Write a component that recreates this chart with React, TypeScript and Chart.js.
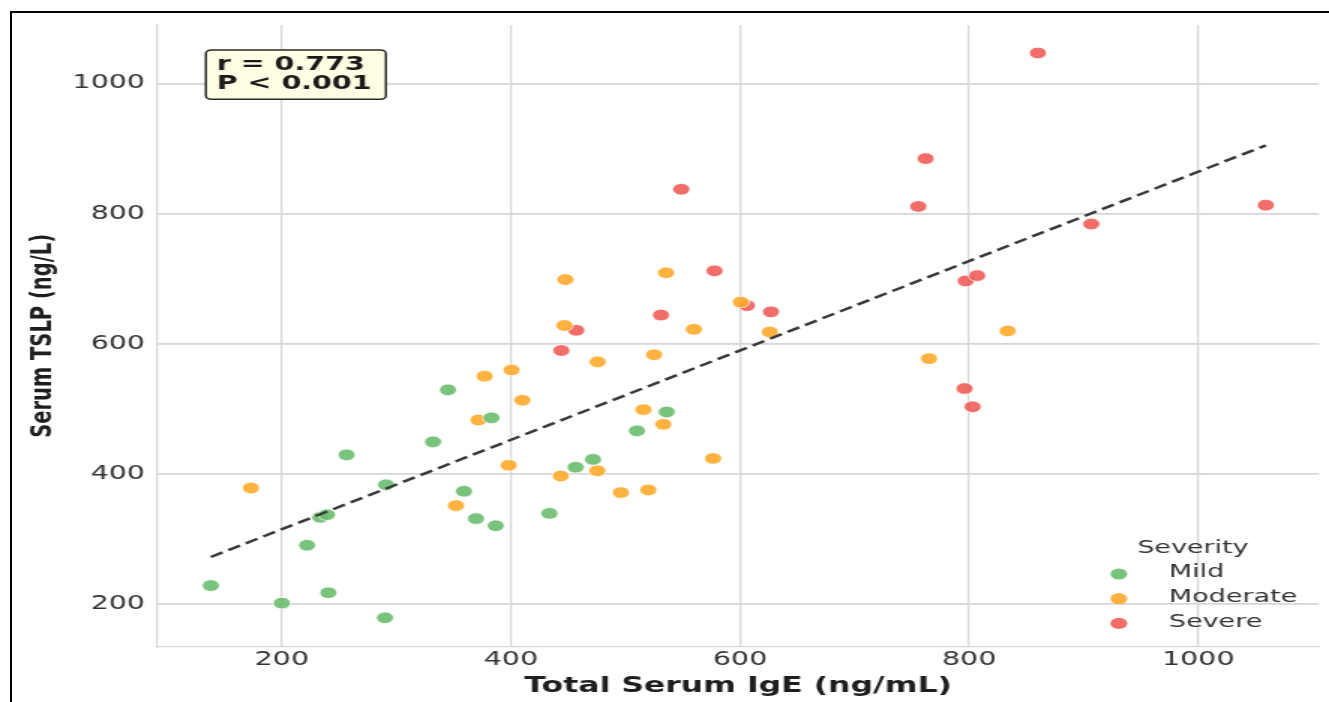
import React, { useEffect, useRef } from "react";
import { Chart, registerables } from "chart.js";

Chart.register(...registerables);

// ---- Data ----
const severityNames = ["Mild", "Moderate", "Severe"];

const mildIgE = [138, 200, 222, 233.6, 239.4, 240.6, 256.5, 290, 291, 332, 345, 359, 369.5, 383, 386.7, 433.6, 456.5, 471.6, 510, 536];
const mildTSLP = [228, 201, 290, 333, 337, 217, 429, 178.5, 383, 449, 529, 373, 331, 486, 320, 339, 410, 422, 466, 495];

const moderateIgE = [173, 352, 371.6, 377, 398, 400.5, 410, 443.5, 446.7, 447.5, 475.4, 475.7, 496, 515.7, 520, 525, 533, 535.4, 559.7, 576.5, 600.6, 626, 765, 833.6];
const moderateTSLP = [378, 351, 482.6, 550, 413, 559.5, 513, 396.5, 628, 698.5, 404.6, 572, 371, 498.5, 375, 583, 476, 709, 622, 423.5, 664, 618, 577, 619.5];

const severeIgE = [444, 457, 531, 548.7, 577.7, 606, 627, 755.6, 762, 796, 797, 803, 807, 860, 906.6, 1059];
const severeTSLP = [589.5, 620.5, 644, 837.4, 712, 658.5, 649, 811, 884.6, 531, 696.4, 503, 704.6, 1047, 784, 813];

const fitIgE = [138, 1059];
const fitTSLP = [272, 905];

const xTickValues = [200, 400, 600, 800, 1000];
const yTickValues = [200, 400, 600, 800, 1000];

const statsLines = ["r = 0.773", "P < 0.001"];
const legendTitle = "Severity";
const xTitle = "Total Serum IgE (ng/mL)";
const yTitle = "Serum TSLP (ng/L)";

// ---- Styles ----
const STRETCH = 1.5;
const FULL_W = 1329;
const FULL_H = 702;
const INNER_W = FULL_W / STRETCH;
const FONT = "'DejaVu Sans', sans-serif";
const TEXT = "#333333";
const GRID = "#d6d6d6";
const severityColors = ["rgba(102,187,106,0.88)", "rgba(255,167,38,0.88)", "rgba(239,83,80,0.85)"];

function pts(xs: number[], ys: number[]) {
  return xs.map((x, i) => ({ x, y: ys[i] }));
}

const overlayPlugin = {
  id: "overlay",
  afterDraw(chart: any) {
    const { ctx, chartArea } = chart;
    ctx.save();
    // stats box
    const bx = chartArea.left + 32.6;
    const by = chartArea.top + 25;
    const bw = 120;
    const bh = 49.3;
    ctx.beginPath();
    (ctx as any).roundRect(bx, by, bw, bh, 3.5);
    ctx.fillStyle = "rgba(255,253,225,0.95)";
    ctx.fill();
    ctx.lineWidth = 1.5;
    ctx.strokeStyle = "#2a2a2a";
    ctx.stroke();
    ctx.fillStyle = "#1a1a1a";
    ctx.font = `bold 19px ${FONT}`;
    ctx.textAlign = "left";
    ctx.textBaseline = "alphabetic";
    ctx.fillText(statsLines[0], bx + 7.3, by + 20);
    ctx.fillText(statsLines[1], bx + 7.3, by + 39.3);

    // legend
    const right = chartArea.right;
    const bottom = chartArea.bottom;
    ctx.font = `18px ${FONT}`;
    ctx.fillStyle = TEXT;
    ctx.textAlign = "center";
    ctx.textBaseline = "middle";
    ctx.fillText(legendTitle, right - 84.1, bottom - 98.4);
    const scatterSets = chart.data.datasets.filter((d: any) => d.isSeverity);
    scatterSets.forEach((d: any, i: number) => {
      const cy = bottom - 72.7 + i * 24.7;
      const cx = right - 133.5;
      ctx.beginPath();
      ctx.arc(cx, cy, 5.6, 0, Math.PI * 2);
      ctx.fillStyle = d.backgroundColor;
      ctx.fill();
      ctx.fillStyle = TEXT;
      ctx.textAlign = "left";
      ctx.fillText(d.label, right - 100.2, cy - 1.3);
    });
    ctx.restore();
  },
};

export default function App() {
  const canvasRef = useRef<HTMLCanvasElement | null>(null);

  useEffect(() => {
    if (!canvasRef.current) return;
    const groups = [
      pts(mildIgE, mildTSLP),
      pts(moderateIgE, moderateTSLP),
      pts(severeIgE, severeTSLP),
    ];
    const chart = new Chart(canvasRef.current, {
      type: "scatter",
      data: {
        datasets: [
          {
            type: "line",
            label: "fit",
            data: pts(fitIgE, fitTSLP),
            borderColor: "#3a3a3a",
            borderWidth: 2.5,
            borderDash: [9, 4.5],
            pointRadius: 0,
            fill: false,
            order: 0,
          } as any,
          ...groups.map((g, i) => ({
            label: severityNames[i],
            data: g,
            isSeverity: true,
            backgroundColor: severityColors[i],
            pointBackgroundColor: severityColors[i],
            pointBorderColor: "rgba(255,255,255,0.9)",
            pointBorderWidth: 0.8,
            pointRadius: 5.8,
            order: 1,
          })),
        ],
      },
      options: {
        animation: false,
        responsive: true,
        maintainAspectRatio: false,
        layout: { padding: { left: 0, top: 25, right: INNER_W - 1322 / STRETCH, bottom: 0 } },
        plugins: { legend: { display: false }, tooltip: { enabled: false } },
        scales: {
          x: {
            type: "linear",
            min: 91,
            max: 1105.5,
            afterBuildTicks: (s: any) => {
              s.ticks = xTickValues.map((v) => ({ value: v }));
            },
            afterFit: (s: any) => {
              s.height = FULL_H - 646.7;
            },
            grid: { color: GRID, lineWidth: 1.3, drawTicks: false },
            border: { color: GRID, width: 1.3 },
            ticks: {
              color: TEXT,
              font: { family: FONT, size: 19 },
              padding: 2,
              maxRotation: 0,
              callback: (v: any) => String(v),
            },
            title: {
              display: true,
              text: xTitle,
              color: "#1e1e1e",
              font: { family: FONT, size: 21, weight: "bold" },
              padding: { top: 0, bottom: 3.2 },
            },
          },
          y: {
            type: "linear",
            min: 134,
            max: 1090,
            afterBuildTicks: (s: any) => {
              s.ticks = yTickValues.map((v) => ({ value: v }));
            },
            afterFit: (s: any) => {
              s.width = 157 / STRETCH;
            },
            grid: { color: GRID, lineWidth: 1.8, drawTicks: false },
            border: { color: GRID, width: 1.3 },
            ticks: {
              color: TEXT,
              font: { family: FONT, size: 19 },
              padding: 8,
              callback: (v: any) => String(v),
            },
            title: {
              display: true,
              text: yTitle,
              color: "#1e1e1e",
              font: { family: FONT, size: 19.5, weight: "bold" },
              padding: { top: 17, bottom: 0 },
            },
          },
        },
      },
      plugins: [overlayPlugin],
    });
    return () => chart.destroy();
  }, []);

  return (
    <div
      style={{
        position: "fixed",
        left: 0,
        top: 0,
        width: FULL_W,
        height: FULL_H,
        background: "#ffffff",
        overflow: "hidden",
      }}
    >
      <div
        style={{
          position: "absolute",
          left: 0,
          top: 0,
          width: INNER_W,
          height: FULL_H,
          transform: `scaleX(${STRETCH})`,
          transformOrigin: "0 0",
        }}
      >
        <canvas ref={canvasRef} />
      </div>
      <div
        style={{
          position: "absolute",
          left: 10,
          top: 11,
          width: FULL_W + 20,
          height: FULL_H + 20,
          borderTop: "2px solid #000",
          borderLeft: "2px solid #000",
          pointerEvents: "none",
        }}
      />
    </div>
  );
}
